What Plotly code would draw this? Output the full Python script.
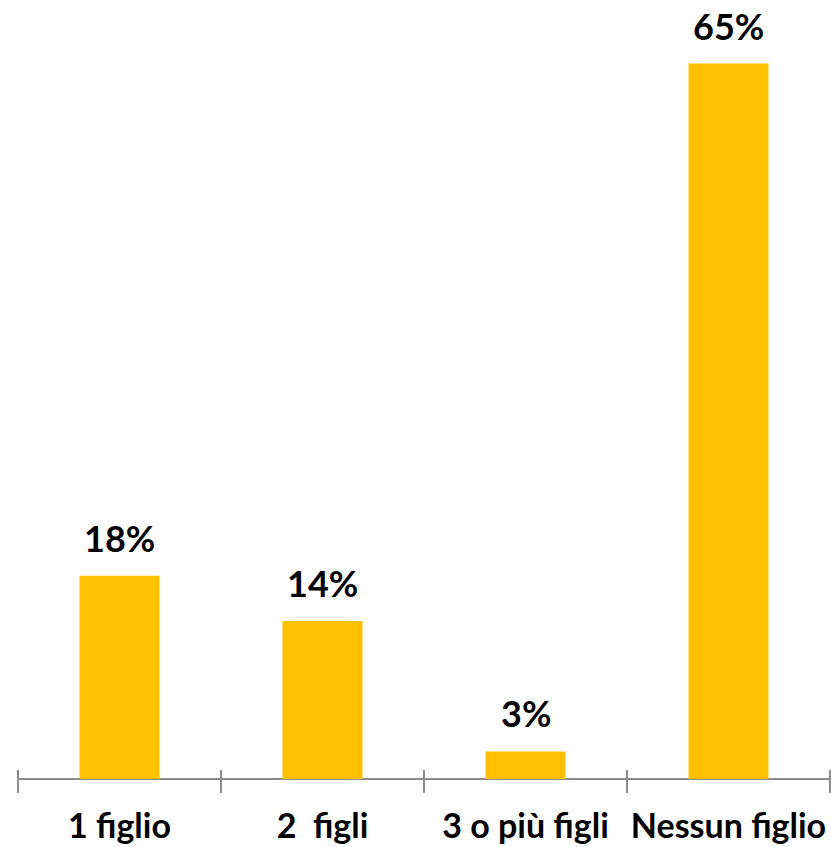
import plotly.graph_objects as go

categories = ["1 figlio", "2  figli", "3 o più figli", "Nessun figlio"]
values = [18.4, 14.3, 2.5, 64.8]
value_labels = ["18%", "14%", "3%", "65%"]

BAR_COLOR = "#FFC000"
AXIS_COLOR = "#8c8c8c"
FONT = "Lato"

fig = go.Figure()
fig.add_trace(go.Bar(x=categories, y=values, marker=dict(color=BAR_COLOR, line=dict(width=0)),
                     hoverinfo="skip", showlegend=False))

for c, v, t in zip(categories, values, value_labels):
    fig.add_annotation(x=c, y=v, text=t, showarrow=False, yanchor="bottom", yshift=14,
                       font=dict(family=FONT, size=36, color="#000000", weight="bold"))

fig.update_layout(
    width=831, height=847,
    margin=dict(l=18, r=1, t=0, b=55, autoexpand=False),
    paper_bgcolor="white", plot_bgcolor="white",
    bargap=0.606,
    xaxis=dict(type="category", tickson="boundaries", ticks="outside", ticklen=23, tickwidth=2,
               tickcolor=AXIS_COLOR, showline=False, anchor="free", position=0.029,
               showgrid=False, zeroline=False, ticklabelstandoff=34, tickangle=0, automargin=False,
               tickfont=dict(family=FONT, size=34, color="#000000", weight="bold")),
    yaxis=dict(range=[-1.1775, 70.56], showticklabels=False, showgrid=False, automargin=False,
               zeroline=True, zerolinecolor=AXIS_COLOR, zerolinewidth=2),
)

fig.write_html("out.html")
